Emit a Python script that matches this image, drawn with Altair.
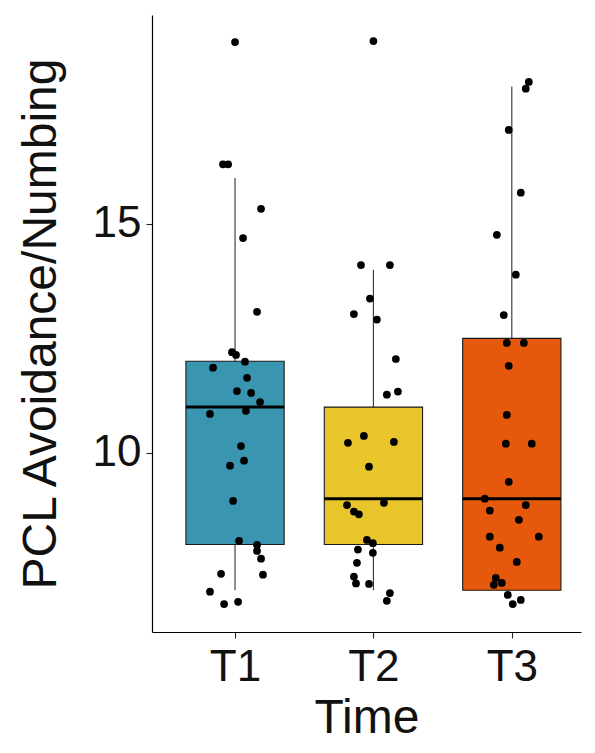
import altair as alt
import pandas as pd

# ---- data ----
times = ["T1", "T2", "T3"]
box_colors = ["#3A96B0", "#E8C52B", "#E6580C"]
q1 = [8, 8, 7]
median = [11, 9, 9]
q3 = [12, 11, 12.5]
whisk_lo = [7, 7, 7]
whisk_hi = [16, 14, 18]
box_half = 0.355

t1_jit = [0.0, -0.087, -0.05, 0.188, 0.058, 0.159, -0.022, 0.007, 0.072, -0.159,
          0.087, 0.014, 0.116, 0.181, -0.181, 0.079, 0.043, -0.036, 0.065, -0.014,
          0.029, 0.159, 0.159, 0.188, -0.101, 0.202, -0.181, -0.079, 0.022]
t1_val = [18.97, 16.30, 16.30, 15.33, 14.69, 13.08, 12.20, 12.14, 11.99, 11.86,
          11.64, 11.35, 11.31, 11.11, 10.85, 10.92, 10.15, 9.72, 9.83, 8.95,
          8.08, 7.99, 7.86, 7.69, 7.36, 7.34, 6.97, 6.70, 6.75]

t2_jit = [0.0, -0.09, 0.119, -0.025, -0.141, 0.025, 0.162, 0.097, 0.177, -0.184,
          -0.069, 0.148, -0.032, -0.191, -0.141, -0.105, 0.076, -0.047, -0.004, -0.112,
          -0.004, -0.119, -0.141, -0.126, -0.032, 0.119, 0.097]
t2_val = [18.99, 14.10, 14.10, 13.37, 13.03, 12.91, 12.05, 11.27, 11.34, 10.22,
          10.37, 10.24, 9.70, 8.86, 8.72, 8.66, 8.91, 8.10, 8.03, 7.89,
          7.82, 7.60, 7.30, 7.15, 7.14, 6.94, 6.77]

t3_jit = [0.123, 0.101, -0.022, 0.065, -0.108, 0.029, -0.058, -0.036, 0.087, -0.022,
          -0.036, -0.043, 0.144, -0.022, -0.195, 0.101, -0.159, 0.051, -0.159, 0.195,
          -0.087, 0.036, -0.116, -0.072, -0.130, -0.029, 0.065, 0.007]
t3_val = [18.10, 17.95, 17.05, 15.68, 14.76, 13.89, 13.01, 12.40, 12.40, 11.90,
          10.83, 10.20, 10.20, 9.37, 9.00, 8.86, 8.74, 8.54, 8.17, 8.17,
          7.93, 7.62, 7.27, 7.16, 7.12, 6.90, 6.79, 6.70]

# ---- tables ----
pos = [1, 2, 3]
boxes = pd.DataFrame({
    "time": times, "pos": pos,
    "left": [p - box_half for p in pos], "right": [p + box_half for p in pos],
    "q1": q1, "median": median, "q3": q3, "lo": whisk_lo, "hi": whisk_hi,
})

rows = []
for p, jit, val in zip(pos, [t1_jit, t2_jit, t3_jit], [t1_val, t2_val, t3_val]):
    for j, v in zip(jit, val):
        rows.append({"x": p + j, "y": v})
points = pd.DataFrame(rows)

FONT = "Liberation Sans"
xscale = alt.Scale(domain=[0.4, 3.5], nice=False, zero=False)
yscale = alt.Scale(domain=[6.09, 19.56], nice=False, zero=False)

xaxis = alt.Axis(values=[1, 2, 3], labelExpr="'T' + datum.value", title="Time",
                 labelBaseline="alphabetic", labelPadding=42,
                 titleBaseline="alphabetic", titleY=100)
yaxis = alt.Axis(values=[10, 15], title="PCL Avoidance/Numbing", labelPadding=5,
                 titleBaseline="alphabetic", titleX=-97)


def X(field):
    return alt.X(field, type="quantitative", scale=xscale, axis=xaxis)


def Y(field):
    return alt.Y(field, type="quantitative", scale=yscale, axis=yaxis)


base = alt.Chart(boxes)

whisk_low = base.mark_rule(color="#333333", strokeWidth=1.1).encode(
    x=X("pos"), y=Y("lo"), y2="q1")
whisk_high = base.mark_rule(color="#333333", strokeWidth=1.1).encode(
    x=X("pos"), y=Y("q3"), y2="hi")
box = base.mark_rect(stroke="#1a1a1a", strokeWidth=1.1).encode(
    x=X("left"), x2="right", y=Y("q1"), y2="q3",
    fill=alt.Fill("time:N", scale=alt.Scale(domain=times, range=box_colors), legend=None))
med = base.mark_rule(color="#000000", strokeWidth=3).encode(
    x=X("left"), x2="right", y=Y("median"))
pts = alt.Chart(points).mark_circle(color="#000000", opacity=1, size=60).encode(
    x=X("x"), y=Y("y"))

chart = alt.layer(whisk_low, whisk_high, box, med, pts).properties(
    width=429, height=617,
    autosize=alt.AutoSizeParams(type="none"),
    padding={"left": 144, "top": 7, "right": 6, "bottom": 112},
).configure_view(stroke=None).configure_axis(
    grid=False, domainColor="#000000", domainWidth=1.2,
    tickColor="#222222", tickSize=6, tickWidth=1.1,
    labelFont=FONT, labelFontSize=44, labelColor="#111111",
    titleFont=FONT, titleFontSize=48, titleFontWeight="normal", titleColor="#111111",
)

chart.save("out.html", embed_options={"renderer": "svg", "actions": False})
